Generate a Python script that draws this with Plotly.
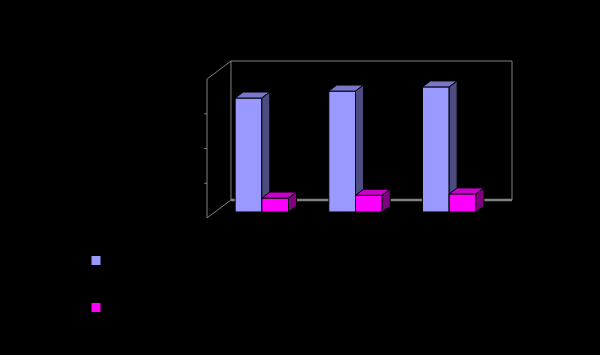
import plotly.graph_objects as go

# ---- data ----
categories = ["Category 1", "Category 2", "Category 3"]
series_names = ["Series 1", "Series 2"]
series1 = [82, 87, 90]
series2 = [10, 12, 13]
y_ticks = [0, 25, 50, 75, 100]

# ---- styling / geometry ----
front_cols = ["#9999FF", "#FF00FF"]
top_cols = ["#7777CC", "#CC00CC"]
side_cols = ["#4C4C80", "#800080"]
wall_col = "#808080"

W, H = 600, 355
YMAX = 100
DX = 0.256      # depth shift in category units
DY = 13.0       # depth shift in value units
BW = 0.285      # bar width
GAP = 0.215     # left offset of group inside category
PADX, PADY = 0.1, 5.0

# pixel placement of the (unpadded) box
px_left, px_right = 207, 512
py_top, py_bot = 61, 218
ppx = (px_right - px_left) / (3 + DX)
ppy = (py_bot - py_top) / (YMAX + DY)

xdom = [(px_left - PADX * ppx) / W, (px_right + PADX * ppx) / W]
ydom = [(H - (py_bot + PADY * ppy)) / H, (H - (py_top - PADY * ppy)) / H]

fig = go.Figure()

def line(xs, ys, width=1, color=wall_col):
    fig.add_trace(go.Scatter(x=xs, y=ys, mode="lines", line=dict(color=color, width=width),
                             showlegend=False, hoverinfo="skip"))

def poly(xs, ys, fill):
    fig.add_trace(go.Scatter(x=xs + [xs[0]], y=ys + [ys[0]], mode="lines", fill="toself",
                             fillcolor=fill, line=dict(color="black", width=1),
                             showlegend=False, hoverinfo="skip"))

n = len(categories)
# back wall
line([DX, n + DX, n + DX, DX, DX], [DY, DY, YMAX + DY, YMAX + DY, DY], 1)
line([DX, n + DX], [DY, DY], 2.5)
# left wall
line([0, 0], [0, YMAX], 1)
line([0, DX], [YMAX, YMAX + DY], 1)
line([0, DX], [0, DY], 1)
for t in y_ticks[1:-1]:
    line([-0.03, 0], [t, t], 1)

# bars
dxb, dyb = DX / 3, DY / 3
for i in range(n):
    for j, vals in enumerate([series1, series2]):
        v = vals[i]
        L = i + GAP + j * BW + dxb
        R = L + BW
        B = dyb
        T = dyb + v
        poly([L, R, R, L], [B, B, T, T], front_cols[j])
        poly([L, R, R + dxb, L + dxb], [T, T, T + dyb, T + dyb], top_cols[j])
        poly([R, R + dxb, R + dxb, R], [B, B + dyb, T + dyb, T], side_cols[j])

# legend entries
for j, name in enumerate(series_names):
    fig.add_trace(go.Scatter(x=[None], y=[None], mode="markers", name=name,
                             legendgroup=name,
                             marker=dict(symbol="square", size=9, color=front_cols[j],
                                         line=dict(width=0))))

fig.update_layout(
    width=W, height=H,
    margin=dict(l=0, r=0, t=0, b=0),
    paper_bgcolor="black", plot_bgcolor="black",
    xaxis=dict(domain=xdom, range=[-PADX, n + DX + PADX], visible=False, fixedrange=True),
    yaxis=dict(domain=ydom, range=[-PADY, YMAX + DY + PADY], visible=False, fixedrange=True),
    legend=dict(x=0.12 + 4 / W, y=1 - 246 / H, xanchor="left", yanchor="top",
                font=dict(color="black", size=12, family="Liberation Sans"),
                bgcolor="rgba(0,0,0,0)", tracegroupgap=28),
    showlegend=True,
)

fig.write_html("out.html")
